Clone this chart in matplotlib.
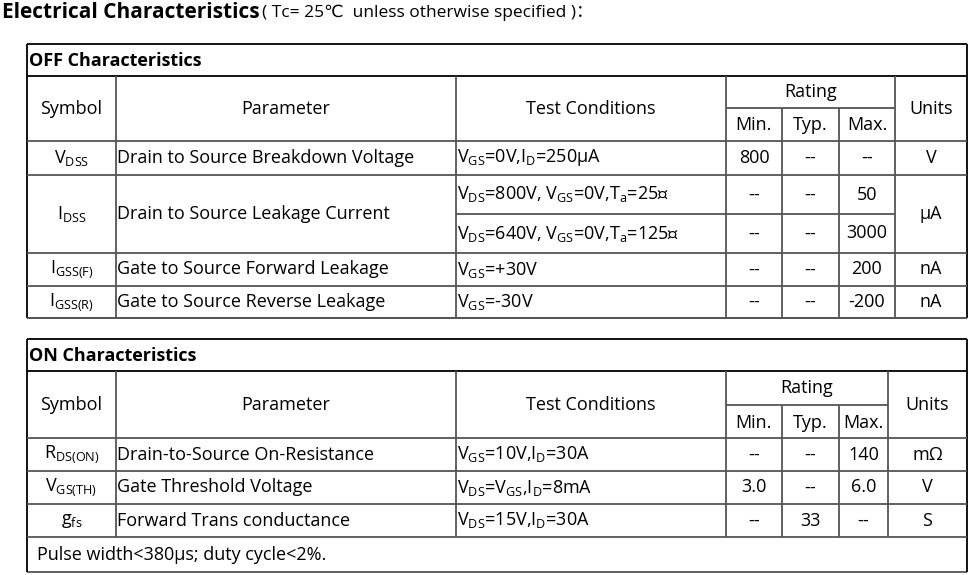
import matplotlib
matplotlib.use("Agg")
import matplotlib.pyplot as plt

plt.rcParams['font.family'] = ['Open Sans', 'DejaVu Sans', 'Noto Sans CJK SC']
plt.rcParams['mathtext.fontset'] = 'custom'
plt.rcParams['mathtext.rm'] = 'Open Sans'

title = "Electrical Characteristics"
subtitle = "( Tc= 25℃  unless otherwise specified )："
headers = ["Symbol", "Parameter", "Test Conditions", "Rating", "Units"]
subheaders = ["Min.", "Typ.", "Max."]

off_title = "OFF Characteristics"
off_symbols = [r"V$_{\mathregular{DSS}}$", r"I$_{\mathregular{DSS}}$", r"I$_{\mathregular{GSS(F)}}$", r"I$_{\mathregular{GSS(R)}}$"]
off_params = ["Drain to Source Breakdown Voltage", "Drain to Source Leakage Current",
              "Gate to Source Forward Leakage", "Gate to Source Reverse Leakage"]
off_conds = [[r"V$_{\mathregular{GS}}$=0V,I$_{\mathregular{D}}$=250μA"],
             [r"V$_{\mathregular{DS}}$=800V, V$_{\mathregular{GS}}$=0V,T$_{\mathregular{a}}$=25℃",
              r"V$_{\mathregular{DS}}$=640V, V$_{\mathregular{GS}}$=0V,T$_{\mathregular{a}}$=125℃"],
             [r"V$_{\mathregular{GS}}$=+30V"], [r"V$_{\mathregular{GS}}$=-30V"]]
off_vals = [[["800", "--", "--"]],
            [["--", "--", "50"], ["--", "--", "3000"]],
            [["--", "--", "200"]], [["--", "--", "-200"]]]
off_units = ["V", "μA", "nA", "nA"]

on_title = "ON Characteristics"
on_symbols = [r"R$_{\mathregular{DS(ON)}}$", r"V$_{\mathregular{GS(TH)}}$", r"g$_{\mathregular{fs}}$"]
on_params = ["Drain-to-Source On-Resistance", "Gate Threshold Voltage", "Forward Trans conductance"]
on_conds = [[r"V$_{\mathregular{GS}}$=10V,I$_{\mathregular{D}}$=30A"],
            [r"V$_{\mathregular{DS}}$=V$_{\mathregular{GS}}$,I$_{\mathregular{D}}$=8mA"],
            [r"V$_{\mathregular{DS}}$=15V,I$_{\mathregular{D}}$=30A"]]
on_vals = [[["--", "--", "140"]], [["3.0", "--", "6.0"]], [["--", "33", "--"]]]
on_units = ["mΩ", "V", "S"]
footnote = "Pulse width<380μs; duty cycle<2%."

fig = plt.figure(figsize=(9.7, 5.75), dpi=100)
ax = fig.add_axes([0, 0, 1, 1])
ax.set_xlim(0, 970); ax.set_ylim(575, 0); ax.axis('off')
FS = 13
LC = '#555555'

def line(x0, x1, y0, y1, c=LC):
    ax.plot([x0, x1], [y0, y1], color=c, lw=1.3, solid_capstyle='butt')

def txt(x, y, s, ha='center', **kw):
    ax.text(x, y, s, ha=ha, va='center', fontsize=FS, color='black', **kw)

ax.text(2, 12, title, fontsize=15, fontweight='bold', va='center')
ax.text(262, 13, subtitle, fontsize=12.5, va='center')

def table(top, cols, hsplit, rows_y, sect_title, syms, params, conds, vals, units, foot=None):
    L, R = 27, 967
    title_b = top + 32
    hb = rows_y[0]
    bottom = rows_y[-1] if foot is None else foot
    line(L, R, top, top, 'black'); line(L, R, bottom, bottom)
    line(L, L, top, bottom, 'black'); line(R, R, top, bottom, 'black')
    line(L, R, title_b, title_b, 'black')
    ax.text(L + 2, (top + title_b) / 2 + 1, sect_title, fontsize=FS, fontweight='bold', va='center')
    c = cols
    for x in [c[1], c[2], c[3], c[6]]:
        line(x, x, title_b, rows_y[-1])
    for x in [c[4], c[5]]:
        line(x, x, hsplit, rows_y[-1])
    line(c[3], c[6], hsplit, hsplit)
    line(L, R, hb, hb)
    hy = (title_b + hb) / 2
    txt((L + c[1]) / 2, hy, headers[0]); txt((c[1] + c[2]) / 2, hy, headers[1])
    txt((c[2] + c[3]) / 2, hy, headers[2]); txt((c[3] + c[6]) / 2, (title_b + hsplit) / 2, headers[3])
    txt((c[6] + R) / 2, hy, headers[4])
    sub_c = [(c[3] + c[4]) / 2, (c[4] + c[5]) / 2, (c[5] + c[6]) / 2]
    for sx, s in zip(sub_c, subheaders):
        txt(sx, (hsplit + hb) / 2 + 1, s)
    for i in range(len(syms)):
        y0, y1 = rows_y[i], rows_y[i + 1]
        line(L, R, y1, y1)
        ym = (y0 + y1) / 2
        txt((L + c[1]) / 2, ym, syms[i]); txt(c[1] + 1, ym, params[i], ha='left')
        txt((c[6] + R) / 2, ym, units[i])
        n = len(conds[i]); h = (y1 - y0) / n
        for j in range(n):
            yy = y0 + h * (j + 0.5)
            if j > 0:
                line(c[2], c[6], y0 + h * j, y0 + h * j)
            txt(c[2] + 1, yy, conds[i][j], ha='left')
            for sx, v in zip(sub_c, vals[i][j]):
                txt(sx, yy, v)
    if foot is not None:
        txt(L + 10, (rows_y[-1] + foot) / 2, footnote, ha='left')

table(44, [27, 116, 456, 726, 782, 839, 895], 108, [141, 175, 253, 286, 318],
      off_title, off_symbols, off_params, off_conds, off_vals, off_units)
table(339, [27, 116, 456, 726, 782, 839, 888], 405, [438, 471, 504, 537],
      on_title, on_symbols, on_params, on_conds, on_vals, on_units, foot=572)

fig.savefig("out.png", dpi=100)
